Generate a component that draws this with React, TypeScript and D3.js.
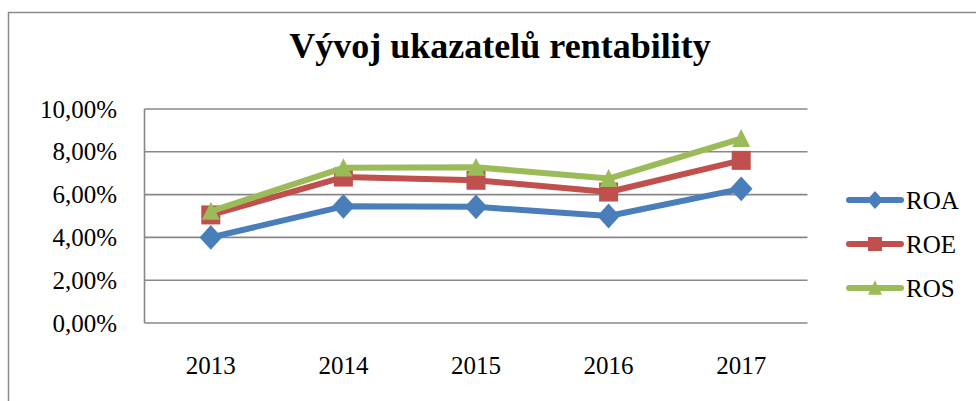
import React from "react";
import * as d3 from "d3";

const years = ["2013", "2014", "2015", "2016", "2017"];
const roa = [4.0, 5.45, 5.43, 5.0, 6.27];
const roe = [5.05, 6.82, 6.67, 6.12, 7.6];
const ros = [5.22, 7.25, 7.28, 6.75, 8.62];
const yTicks = [0, 2, 4, 6, 8, 10];
const title = "Vývoj ukazatelů rentability";

const series = [
  { name: "ROA", values: roa, color: "#4A7EBB", marker: "diamond" },
  { name: "ROE", values: roe, color: "#C0504D", marker: "square" },
  { name: "ROS", values: ros, color: "#9BBB59", marker: "triangle" },
];

const W = 976;
const H = 401;
const plot = { left: 144.5, right: 807.5, top: 109, bottom: 323 };
const FONT = "'Liberation Serif', 'Times New Roman', serif";

function Marker({ type, x, y, color, s }: { type: string; x: number; y: number; color: string; s: number }) {
  if (type === "diamond") {
    const sym = d3.symbol().type(d3.symbolDiamond2).size(s * s * 1.0)();
    return <path d={sym || ""} transform={`translate(${x},${y}) scale(1,1.1)`} fill={color} />;
  }
  if (type === "square") {
    return <rect x={x - s / 2} y={y - s / 2} width={s} height={s} fill={color} />;
  }
  const h = s * 0.95;
  return (
    <path
      d={`M${x},${y - h / 2 - 1}L${x + s / 2},${y + h / 2}L${x - s / 2},${y + h / 2}Z`}
      fill={color}
    />
  );
}

export default function App() {
  const x = d3.scaleBand().domain(years).range([plot.left, plot.right]);
  const y = d3.scaleLinear().domain([0, 10]).range([plot.bottom, plot.top]);
  const line = d3
    .line<number>()
    .x((_, i) => (x(years[i]) as number) + x.bandwidth() / 2)
    .y((d) => y(d));
  const fmt = (v: number) => v.toFixed(2).replace(".", ",") + "%";
  const legendY = [200, 244, 288];

  return (
    <svg
      width={W}
      height={H}
      style={{ position: "absolute", left: 0, top: 0, background: "#fff" }}
      fontFamily={FONT}
    >
      <rect x={8.5} y={12.5} width={W + 10} height={H + 10} fill="#fff" stroke="#8C8C8C" strokeWidth={1.5} />
      <text x={500} y={58} textAnchor="middle" fontSize={36} fontWeight="bold" fill="#000">
        {title}
      </text>
      {yTicks.map((t) => (
        <g key={t}>
          <line x1={plot.left} x2={plot.right} y1={y(t)} y2={y(t)} stroke="#888" strokeWidth={1.6} />
          <text x={117} y={y(t)} dy="0.34em" textAnchor="end" fontSize={25} fill="#000">
            {fmt(t)}
          </text>
        </g>
      ))}
      <line x1={plot.left} x2={plot.left} y1={plot.top} y2={plot.bottom} stroke="#888" strokeWidth={1.6} />
      {years.map((yr) => (
        <text
          key={yr}
          x={(x(yr) as number) + x.bandwidth() / 2}
          y={374}
          textAnchor="middle"
          fontSize={25}
          fill="#000"
        >
          {yr}
        </text>
      ))}
      {series.map((s) => (
        <g key={s.name}>
          <path d={line(s.values) || ""} fill="none" stroke={s.color} strokeWidth={6} strokeLinejoin="round" strokeLinecap="round" />
          {s.values.map((v, i) => (
            <Marker
              key={i}
              type={s.marker}
              x={(x(years[i]) as number) + x.bandwidth() / 2}
              y={y(v)}
              color={s.color}
              s={s.marker === "diamond" ? 18 : s.marker === "square" ? 19 : 18}
            />
          ))}
        </g>
      ))}
      {series.map((s, i) => (
        <g key={s.name}>
          <line x1={849} x2={901} y1={legendY[i]} y2={legendY[i]} stroke={s.color} strokeWidth={6} strokeLinecap="round" />
          <Marker type={s.marker} x={875} y={legendY[i]} color={s.color} s={s.marker === "diamond" ? 13 : 14} />
          <text x={906} y={legendY[i]} dy="0.34em" fontSize={25} fill="#000">
            {s.name}
          </text>
        </g>
      ))}
    </svg>
  );
}
